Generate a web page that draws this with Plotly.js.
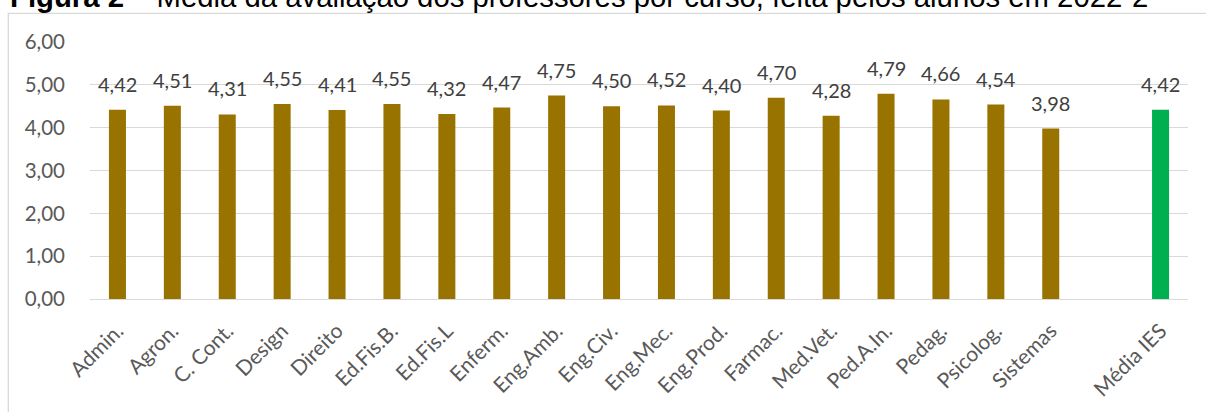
<!DOCTYPE html>
<html>
<head>
<meta charset="utf-8">
<script src="https://cdn.plot.ly/plotly-3.0.1.min.js"></script>
<style>html,body{margin:0;padding:0;background:#fff;overflow:hidden}#chart{width:1206px;height:412px}</style>
</head>
<body>
<div id="chart"></div>
<script>
const categories = ['Admin.','Agron.','C. Cont.','Design','Direito','Ed.Fis.B.','Ed.Fis.L','Enferm.','Eng.Amb.','Eng.Civ.','Eng.Mec.','Eng.Prod.','Farmac.','Med.Vet.','Ped.A.In.','Pedag.','Psicolog.','Sistemas','','Média IES'];
const courseValues = [4.42,4.51,4.31,4.55,4.41,4.55,4.32,4.47,4.75,4.50,4.52,4.40,4.70,4.28,4.79,4.66,4.54,3.98];
const averageLabel = 'Média IES';
const averageValue = 4.42;
const yTicks = [0,1,2,3,4,5,6];

const courseX = courseValues.map((v,i)=>i);
const avgX = categories.indexOf(averageLabel);
const fmt = v => v.toFixed(2).replace('.', ',');

const labelFont = {family:'Lato, "Open Sans", sans-serif', size:20, color:'#404040'};

const annotations = courseValues.map((v,i)=>({
  x: courseX[i], y: v, xref:'x', yref:'y', text: fmt(v), showarrow:false,
  yanchor:'bottom', xanchor:'center', yshift:12, font: labelFont
}));
annotations.push({x: avgX, y: averageValue, xref:'x', yref:'y', text: fmt(averageValue), showarrow:false,
  yanchor:'bottom', xanchor:'center', yshift:12, font: labelFont});
annotations.push({
  xref:'paper', yref:'paper', x:(8-90)/1098, y:(299.5+3.5)/257.5, xanchor:'left', yanchor:'middle',
  showarrow:false, text:'<b>Figura 2</b> – Média da avaliação dos professores por curso, feita pelos alunos em 2022-2',
  font:{family:'"Liberation Sans", Arial, sans-serif', size:29.3, color:'#000000'}
});

const data = [
  {type:'bar', x: courseX, y: courseValues, marker:{color:'#997300'}, width:0.31, hoverinfo:'none'},
  {type:'bar', x: [avgX], y: [averageValue], marker:{color:'#00B050'}, width:0.31, hoverinfo:'none'}
];

const layout = {
  width:1206, height:412,
  margin:{l:90, r:18, t:42, b:112.5, pad:0},
  paper_bgcolor:'#ffffff', plot_bgcolor:'#ffffff',
  showlegend:false, barmode:'overlay',
  separators:',.',
  xaxis:{
    range:[-0.5, categories.length-0.5], tickvals: categories.map((c,i)=>i), ticktext: categories,
    tickangle:-45, showgrid:false, zeroline:false, showline:true, linecolor:'#d9d9d9', linewidth:1.3,
    ticks:'', ticklabelstandoff:10, tickfont:{family:'Lato, "Open Sans", sans-serif', size:21, color:'#595959'}, fixedrange:true
  },
  yaxis:{
    range:[0,6], tickvals:yTicks, tickformat:'.2f', showgrid:true, gridcolor:'#d9d9d9', gridwidth:1.3,
    zeroline:false, showline:false, ticks:'', ticklabelstandoff:24,
    tickfont:{family:'Lato, "Open Sans", sans-serif', size:20.5, color:'#595959'}, fixedrange:true
  },
  annotations: annotations,
  shapes:[{type:'rect', xref:'paper', yref:'paper', x0:(8.3-90)/1098, x1:1.1, y0:-1, y1:(299.5-13.3)/257.5,
    line:{color:'#d9d9d9', width:1.3}, fillcolor:'rgba(0,0,0,0)', layer:'below'}]
};

Plotly.newPlot('chart', data, layout, {staticPlot:true, displayModeBar:false});
</script>
</body>
</html>
